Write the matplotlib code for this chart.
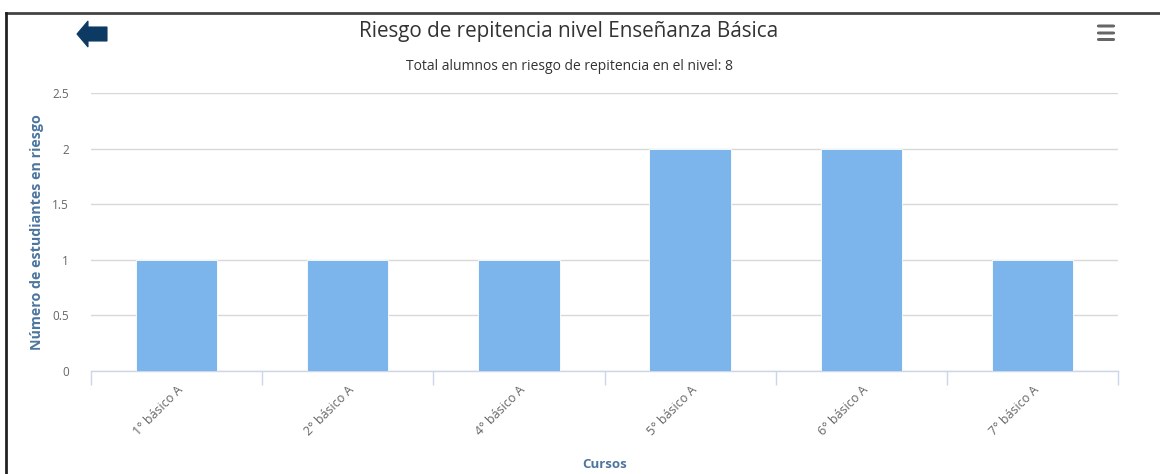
import matplotlib
matplotlib.use('Agg')
import matplotlib.pyplot as plt
from matplotlib.patches import Polygon, FancyBboxPatch
from matplotlib.lines import Line2D
import numpy as np

cursos = ['1° básico A', '2° básico A', '4° básico A', '5° básico A', '6° básico A', '7° básico A']
en_riesgo = [1, 1, 1, 2, 2, 1]
y_ticks = [0, 0.5, 1, 1.5, 2, 2.5]
y_tick_labels = ['0', '0.5', '1', '1.5', '2', '2.5']

plt.rcParams['font.family'] = ['Open Sans', 'DejaVu Sans']

W, H = 1160, 474
fig = plt.figure(figsize=(11.6, 4.74), dpi=100)
ax = fig.add_axes([91 / W, 1 - 371 / H, (1118 - 91) / W, (371 - 93) / H])

x = np.arange(len(cursos))
ax.bar(x, en_riesgo, width=0.475, color='#7cb5ec', edgecolor='white', linewidth=0.6, zorder=3)

ax.set_xlim(-0.5, len(cursos) - 0.5)
ax.set_ylim(0, 2.5)
ax.set_yticks(y_ticks)
ax.set_yticklabels(y_tick_labels)
ax.tick_params(axis='y', length=0, pad=16, labelsize=8.5, labelcolor='#666666')
ax.grid(axis='y', color='#d8d8d8', linewidth=1, zorder=0)

# category boundary ticks
ax.set_xticks(np.arange(len(cursos) + 1) - 0.5)
ax.set_xticklabels([])
ax.tick_params(axis='x', length=10, width=1, color='#ccd6eb', direction='out')
ax.set_xticks(x, minor=True)
ax.set_xticklabels(cursos, minor=True, rotation=45, ha='right', va='top',
                   rotation_mode='anchor', fontsize=9, color='#666666')
ax.tick_params(axis='x', which='minor', length=0, pad=9)

for s in ['top', 'right', 'left']:
    ax.spines[s].set_visible(False)
ax.spines['bottom'].set_color('#ccd6eb')
ax.spines['bottom'].set_linewidth(1)
ax.set_axisbelow(True)

ax.set_ylabel('Número de estudiantes en riesgo', fontsize=10.3, fontweight='bold', color='#4d759e', labelpad=6)
fig.text((91 + 1118) / 2 / W, 1 - 465 / H, 'Cursos', ha='center', va='center',
         fontsize=9.5, fontweight='bold', color='#4d759e')

fig.text(569 / W, 1 - 31 / H, 'Riesgo de repitencia nivel Enseñanza Básica', ha='center', va='center',
         fontsize=14.9, color='#333333')
fig.text(569 / W, 1 - 67 / H, 'Total alumnos en riesgo de repitencia en el nivel: 8', ha='center', va='center',
         fontsize=10, color='#333333')

# frame border (top and left)
fig.add_artist(Line2D([6 / W, 1], [1 - 12.5 / H, 1 - 12.5 / H], color='#444444', linewidth=2))
fig.add_artist(Line2D([6 / W, 6 / W], [0, 1 - 12.5 / H], color='#222222', linewidth=2))

# back arrow icon
arrow = [(77, 34), (88, 21), (88, 27), (107, 27), (107, 41), (88, 41), (88, 47)]
fig.add_artist(Polygon([(px / W, 1 - py / H) for px, py in arrow], closed=True,
                       facecolor='#0d3a63', edgecolor='#0d3a63', linewidth=0.8,
                       transform=fig.transFigure))

# menu icon
for py in [26, 33, 39.5]:
    fig.add_artist(FancyBboxPatch((1097 / W, 1 - (py + 1.5) / H), 18 / W, 3 / H,
                                  boxstyle='round,pad=0,rounding_size=0.002',
                                  facecolor='#666666', edgecolor='none', transform=fig.transFigure))

fig.savefig('out.png', dpi=100)
